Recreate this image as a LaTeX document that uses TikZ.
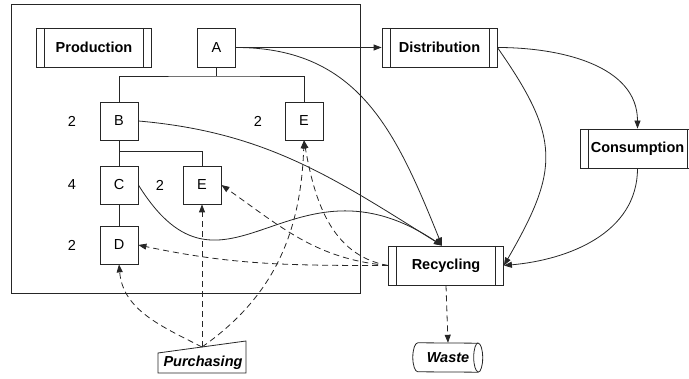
\documentclass[tikz,border=0pt]{standalone}
\usepackage{fontspec}
\setmainfont{Liberation Sans}
\usetikzlibrary{arrows.meta,calc}
\begin{document}
\begin{tikzpicture}[x=1pt,y=1pt,
  every node/.style={font=\fontsize{14.5}{17}\selectfont},
  line/.style={line width=0.8pt,draw=black!85},
  proc/.style={line, rectangle, minimum width=115, minimum height=39, inner sep=0pt,
    font=\fontsize{14.5}{17}\selectfont\bfseries,
    path picture={
      \draw[line] ([xshift=8pt]path picture bounding box.north west) -- ([xshift=8pt]path picture bounding box.south west);
      \draw[line] ([xshift=-8pt]path picture bounding box.north east) -- ([xshift=-8pt]path picture bounding box.south east);
    }},
  part/.style={line, rectangle, minimum width=38, minimum height=38, inner sep=0pt},
  qty/.style={inner sep=0pt},
  flow/.style={line, -{Triangle[length=8pt,width=6pt]}},
  back/.style={line, dash pattern=on 6pt off 4pt, -{Triangle[length=8pt,width=6pt]}}
]
\clip (0,0) rectangle (689,379);

% plant boundary
\draw[line] (11,86) rectangle (360,375);

% process blocks
\node[proc] (prod) at (94,331.5) {Production};
\node[proc] (dist) at (439.5,331.5) {Distribution};
\node[proc] (cons) at (637.5,230.5) {Consumption};
\node[proc] (rec) at (446,113.5) {Recycling};

% product structure
\node[part, minimum height=39] (A) at (216.5,331.5) {A};
\node[part] (B) at (119,258) {B};
\node[part] (E1) at (304,258) {E};
\node[part] (C) at (119,194) {C};
\node[part] (E2) at (202,194) {E};
\node[part] (D) at (119,134) {D};

\node[qty] (qB) at (72,258) {2};
\node[qty] (qE1) at (258,258) {2};
\node[qty] (qC) at (72,194) {4};
\node[qty] (qE2) at (160,194) {2};
\node[qty] (qD) at (72,134) {2};

\coordinate (tj) at (216.5,303);
\coordinate (tj2) at (119,228);
\draw[line] (A.south) -- (tj);
\draw[line] (B.north) |- (tj) -| (E1.north);
\draw[line] (B.south) -- (C.north);
\draw[line] (tj2) -| (E2.north);
\draw[line] (C.south) -- (D.north);

% waste store
\node[inner sep=0pt, minimum width=70, minimum height=29,
  font=\fontsize{14.5}{17}\selectfont\bfseries\itshape] (waste) at (448,21.5) {Waste};
\draw[line] ([xshift=5pt]waste.north west) arc[start angle=90,end angle=270,x radius=5,y radius=14.5]
  -- ([xshift=-5pt]waste.south east)
  arc[start angle=-90,end angle=90,x radius=4.5,y radius=14.5]
  -- cycle;
\draw[line] ([xshift=-5pt]waste.north east) arc[start angle=90,end angle=270,x radius=4.5,y radius=14.5];

% purchasing (manual input)
\node[inner sep=0pt, font=\fontsize{14.5}{17}\selectfont\bfseries\itshape] (purch) at (203,16) {Purchasing};
\draw[line] (158,6) -- (246,6) -- (246,38) -- (158,26) -- cycle;
\coordinate (ptop) at (202,32);

% material flows
\coordinate (rectop) at ([xshift=-4pt]rec.north);
\draw[flow] (A.east) -- (dist.west);
\draw[flow] (A.east) to[out=0,in=112,looseness=1.1] (rectop);
\draw[flow] (B.east) to[out=-5,in=148] (rectop);
\draw[flow] (C.east) .. controls (225,55) and (290,235) .. (rectop);
\draw[flow] (dist.east) to[out=0,in=90] (cons.north);
\draw[flow] (dist.east) to[out=-55,in=60,looseness=1.3] (rec.east);
\draw[flow] (cons.south) to[out=-90,in=5] (rec.east);
\draw[back] (rec.south) -- (waste.north);

% return flows
\draw[back] (rec.west) to[out=180,in=-12] (D.east);
\draw[back] (rec.west) to[out=175,in=-35] (E2.east);
\draw[back] (rec.west) to[out=170,in=-80] (E1.south);
\draw[back] (ptop) to[out=35,in=-92] (E1.south);
\draw[back] (ptop) -- (E2.south);
\draw[back] (ptop) to[out=153,in=-85] (D.south);
\end{tikzpicture}
\end{document}
